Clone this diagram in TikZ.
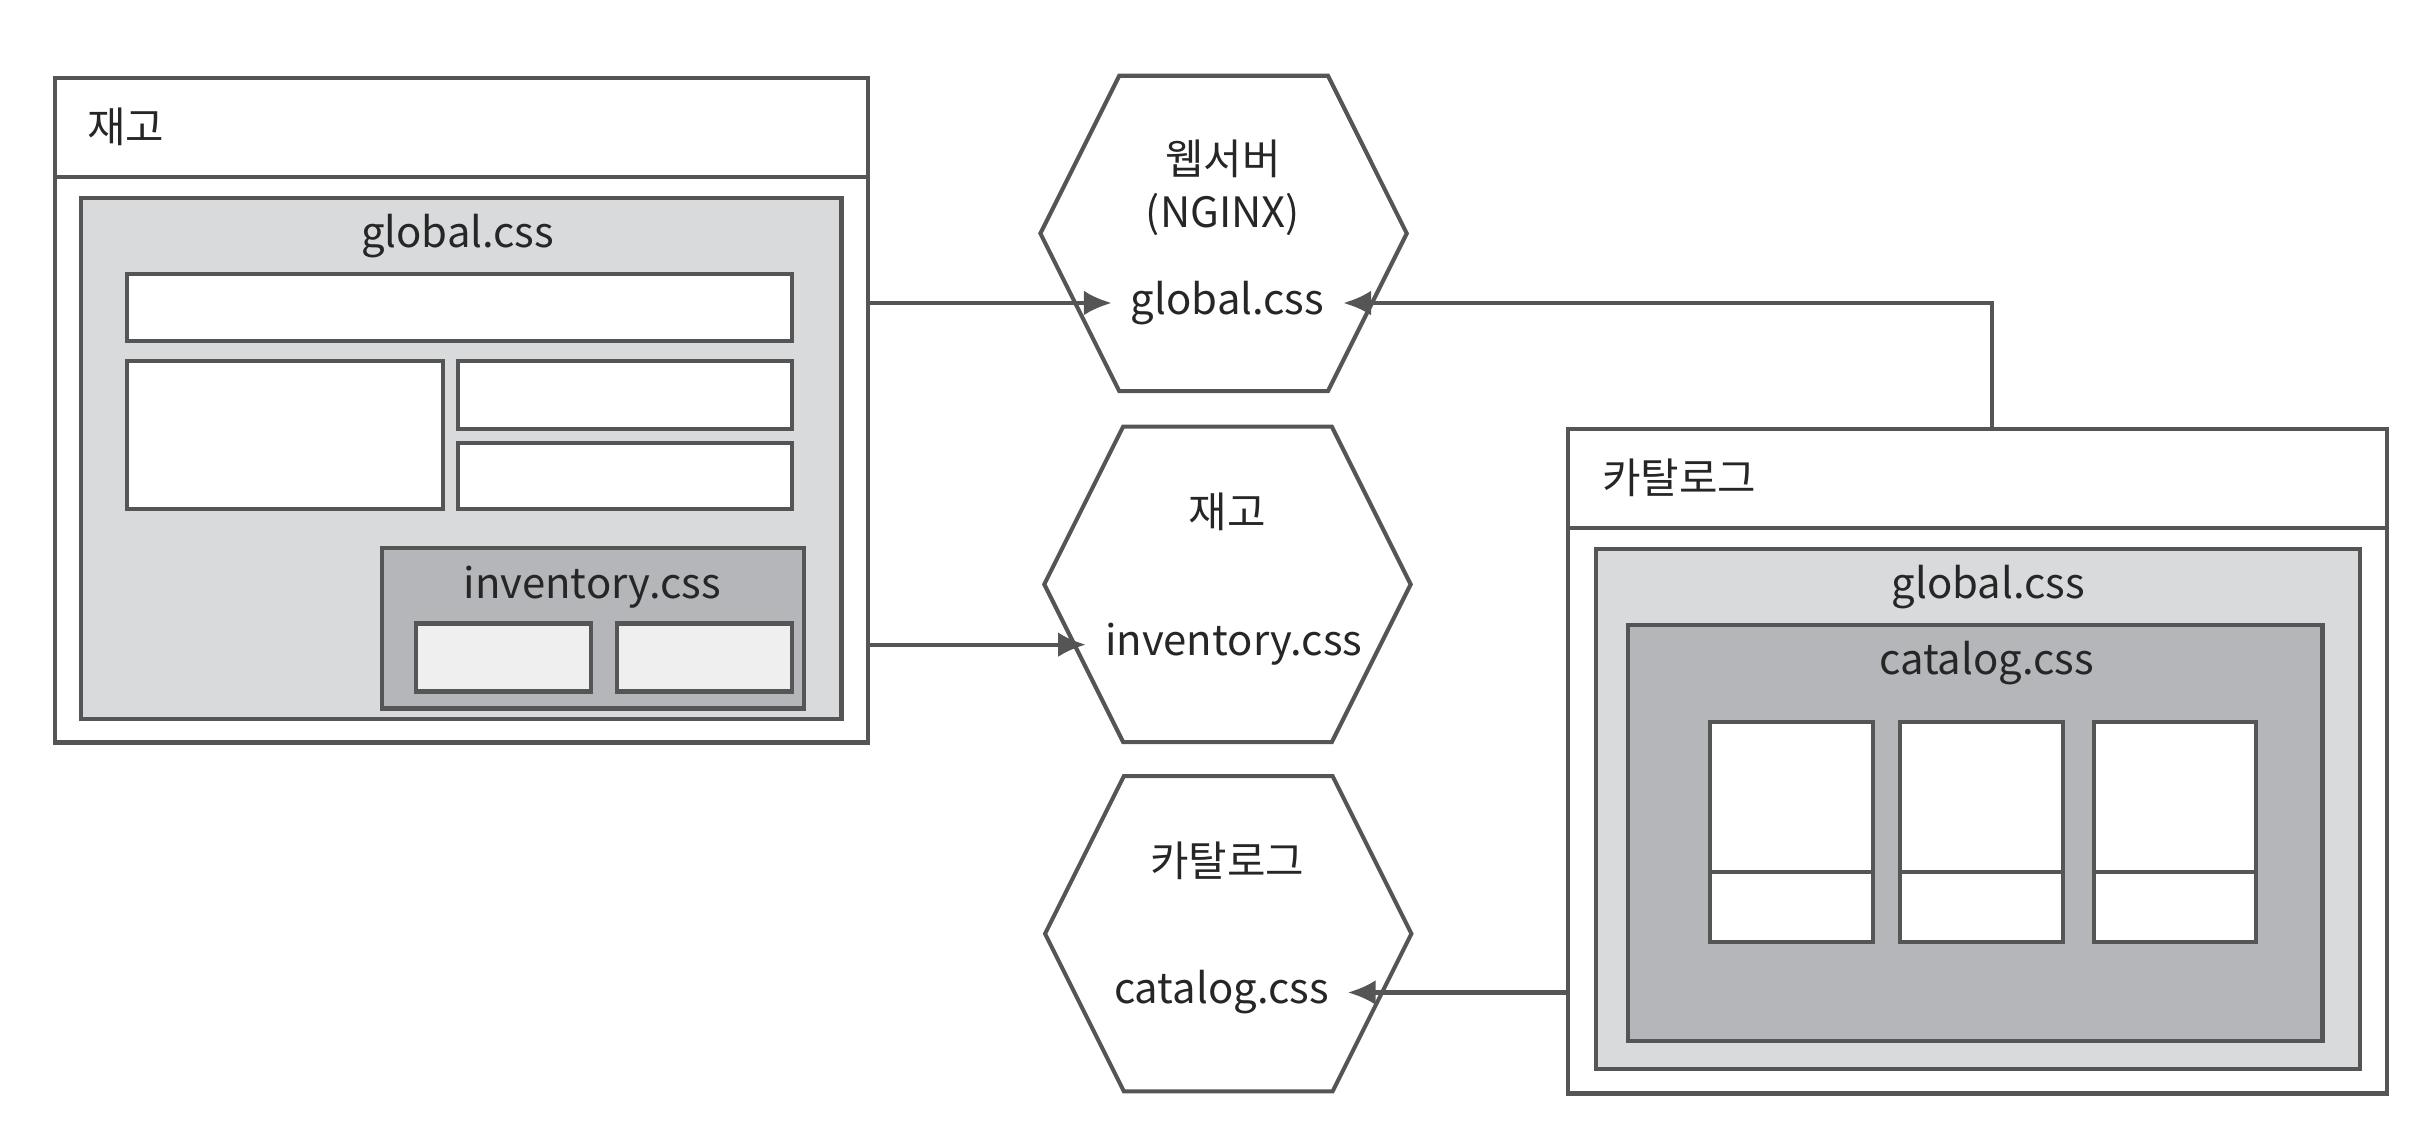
\documentclass[tikz,border=0pt]{standalone}
\usepackage{fontspec}
\setmainfont{Noto Sans CJK KR}
\usetikzlibrary{arrows.meta}
\definecolor{linegray}{HTML}{555555}
\definecolor{lightfill}{HTML}{D9DADC}
\definecolor{darkfill}{HTML}{B5B6B9}
\definecolor{palefill}{HTML}{EFEFEF}
\definecolor{textgray}{HTML}{262626}
\tikzset{>={Latex[length=1.8mm,width=1.6mm]}}
\tikzset{
  box/.style={draw=linegray, line width=0.75pt, anchor=north west, inner sep=0pt},
  headbox/.style={box, fill=white, minimum height=0.64cm, align=left, inner xsep=0.21cm, font=\fontsize{7.7pt}{9pt}\selectfont, text=textgray},
  txt/.style={font=\fontsize{7.7pt}{9pt}\selectfont, text=textgray},
  link/.style={draw=linegray, line width=0.75pt, ->},
}

\begin{document}
\begin{tikzpicture}
        \useasboundingbox (0,0) rectangle (15.68,-7.31);
        \node[headbox, text width=4.84cm, minimum width=5.26cm] (invhead) at (0.34,-0.49) {재고};
        \node[box, fill=white, minimum width=5.26cm, minimum height=3.66cm] (invbody) at (0.34,-1.13) {};
        \node[box, fill=lightfill, minimum width=4.92cm, minimum height=3.37cm] (invglobal) at (0.51,-1.27) {};
        \node[txt] (invglobaltxt) at (2.96,-1.53) {global.css};
        \node[box, fill=white, minimum width=4.30cm, minimum height=0.43cm] (invtop) at (0.81,-1.76) {};
        \node[box, fill=white, minimum width=2.04cm, minimum height=0.96cm] (invleft) at (0.81,-2.32) {};
        \node[box, fill=white, minimum width=2.16cm, minimum height=0.44cm] (invright1) at (2.95,-2.32) {};
        \node[box, fill=white, minimum width=2.16cm, minimum height=0.43cm] (invright2) at (2.95,-2.85) {};
        \node[box, fill=darkfill, minimum width=2.73cm, minimum height=1.04cm] (invcss) at (2.46,-3.53) {};
        \node[txt] (invcsstxt) at (3.83,-3.80) {inventory.css};
        \node[box, fill=palefill, minimum width=1.13cm, minimum height=0.44cm] (invsmall1) at (2.68,-4.02) {};
        \node[box, fill=palefill, minimum width=1.13cm, minimum height=0.44cm] (invsmall2) at (3.98,-4.02) {};

        \foreach \cx/\cy in {7.915/-1.51, 7.94/-3.78, 7.945/-6.04}
          \draw[draw=linegray, line width=0.75pt] (\cx-1.185,\cy) -- (\cx-0.675,\cy+1.02) -- (\cx+0.675,\cy+1.02) -- (\cx+1.185,\cy) -- (\cx+0.675,\cy-1.02) -- (\cx-0.675,\cy-1.02) -- cycle;
        \node[txt] (hweb) at (7.91,-1.03) {웹서버};
        \node[txt] (hnginx) at (7.91,-1.39) {(NGINX)};
        \node[txt] (hglobal) at (7.94,-1.96) {global.css};
        \node[txt] (hinvname) at (7.94,-3.31) {재고};
        \node[txt] (hinv) at (7.98,-4.17) {inventory.css};
        \node[txt] (hcatname) at (7.94,-5.57) {카탈로그};
        \node[txt] (hcat) at (7.90,-6.42) {catalog.css};

        \node[headbox, text width=4.86cm, minimum width=5.30cm, inner xsep=0.22cm] (cathead) at (10.13,-2.76) {카탈로그};
        \node[box, fill=white, minimum width=5.30cm, minimum height=3.66cm] (catbody) at (10.13,-3.40) {};
        \node[box, fill=lightfill, minimum width=4.94cm, minimum height=3.36cm] (catglobal) at (10.31,-3.54) {};
        \node[txt] (catglobaltxt) at (12.86,-3.80) {global.css};
        \node[box, fill=darkfill, minimum width=4.49cm, minimum height=2.69cm] (catcss) at (10.52,-4.03) {};
        \node[txt] (catcsstxt) at (12.85,-4.29) {catalog.css};
        \foreach \x [count=\i] in {11.05,12.28,13.53} {
          \node[box, fill=white, minimum width=1.05cm, minimum height=0.97cm] (cardtop\i) at (\x,-4.66) {};
          \node[box, fill=white, minimum width=1.05cm, minimum height=0.45cm] (cardbot\i) at (\x,-5.63) {};
        }

        \draw[link] (hglobal -| invbody.east) -- (hglobal.west);
        \draw[link] ([xshift=0.09cm]cathead.north) |- (hglobal.east);
        \draw[link] (hinv -| invbody.east) -- (hinv.west);
        \draw[link] (hcat -| catbody.west) -- (hcat.east);
\end{tikzpicture}
\end{document}
